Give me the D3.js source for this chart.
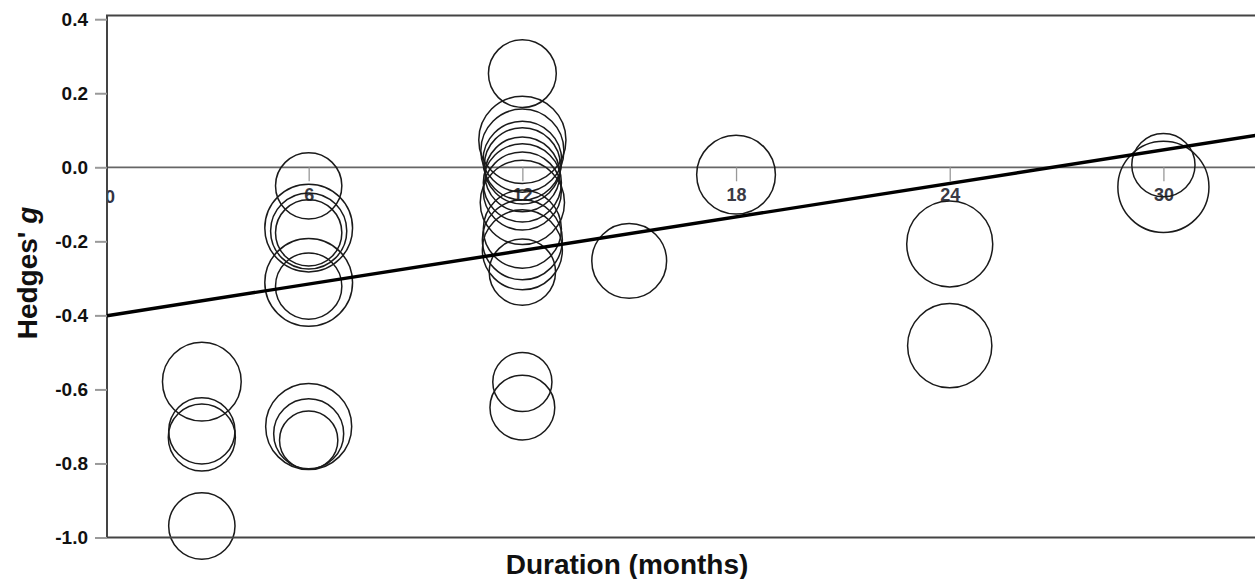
<!DOCTYPE html>
<html>
<head>
<meta charset="utf-8">
<script src="https://cdn.jsdelivr.net/npm/d3@7"></script>
<style>
  html, body { margin: 0; padding: 0; background: #fff; }
  svg { display: block; font-family: "Liberation Sans", Arial, sans-serif; }
</style>
</head>
<body>
<div id="chart"></div>
<script>
// study duration (months), effect size and study weight
const months = [
  3, 3, 3, 3,
  6, 6, 6, 6, 6, 6, 6, 6, 6,
  12, 12, 12, 12, 12, 12, 12, 12, 12, 12, 12, 12, 12, 12, 12,
  15, 18, 24, 24, 30, 30
];
const hedgesG = [
  -0.579, -0.712, -0.730, -0.969,
  -0.050, -0.164, -0.172, -0.177, -0.311, -0.321, -0.700, -0.720, -0.737,
  0.253, 0.074, 0.045, 0.018, 0.004, -0.019, -0.042, -0.064, -0.095, -0.167, -0.196, -0.223, -0.283, -0.580, -0.649,
  -0.253, -0.020, -0.207, -0.482, -0.053, 0.006
];
const weights = [
  62, 44, 45, 44,
  44, 77, 58, 44, 77, 44, 74, 49, 34,
  46, 76, 69, 62, 58, 56, 61, 61, 71, 61, 64, 64, 44, 35, 42,
  56, 62, 74, 71, 83, 40
];
const yTicks = [0.4, 0.2, 0.0, -0.2, -0.4, -0.6, -0.8, -1.0];
const xTicks = [6, 12, 18, 24, 30];
const fitIntercept = -0.406;
const fitSlope = 0.0151;

const width = 1255, height = 579;
const plotLeft = 107, plotTop = 15.5, plotBottom = 537.5;

const data = months.map((m, i) => ({ month: m, g: hedgesG[i], w: weights[i] }));

const svg = d3.select("#chart").append("svg")
  .attr("width", width)
  .attr("height", height);

const x = d3.scaleLinear().domain([0, 32.6]).range([95, 1256]);
const y = d3.scaleLinear().domain([-1.0, 0.41]).range([plotBottom, plotTop]);
const r = d3.scaleSqrt().domain([0, 100]).range([0, 50]);

svg.append("clipPath").attr("id", "plotclip")
  .append("rect")
  .attr("x", plotLeft).attr("y", 0)
  .attr("width", width - plotLeft).attr("height", height);

// zero line + x axis
svg.append("line")
  .attr("x1", plotLeft).attr("x2", width)
  .attr("y1", y(0)).attr("y2", y(0))
  .attr("stroke", "#666").attr("stroke-width", 1.8);

const xAxis = svg.append("g")
  .attr("transform", `translate(0, ${y(0)})`)
  .call(d3.axisBottom(x).tickValues(xTicks).tickSize(14).tickPadding(7).tickFormat(d3.format("d")));
xAxis.select(".domain").remove();
xAxis.selectAll(".tick line").attr("stroke", "#999").attr("stroke-width", 1.3);
xAxis.selectAll(".tick text")
  .attr("font-size", 18).attr("font-weight", "bold").attr("fill", "#3a3a44")
  .attr("font-family", "'Liberation Sans', Arial, sans-serif");

svg.append("text")
  .attr("clip-path", "url(#plotclip)")
  .attr("x", plotLeft + 3).attr("y", y(0) + 36)
  .attr("text-anchor", "middle")
  .attr("font-size", 18).attr("font-weight", "bold").attr("fill", "#334")
  .text("0");

// circles
svg.append("g")
  .selectAll("circle")
  .data(data)
  .join("circle")
  .attr("cx", d => x(d.month))
  .attr("cy", d => y(d.g))
  .attr("r", d => r(d.w))
  .attr("fill", "none")
  .attr("stroke", "#1a1a1a")
  .attr("stroke-width", 1.5);

// frame
svg.append("path")
  .attr("d", `M${width + 2},${plotTop} H${plotLeft} V${plotBottom} H${width + 2}`)
  .attr("fill", "none")
  .attr("stroke", "#444")
  .attr("stroke-width", 2);

// y axis
const yAxis = svg.append("g")
  .attr("transform", `translate(${plotLeft}, 0)`)
  .call(d3.axisLeft(y).tickValues(yTicks).tickSize(12).tickPadding(7).tickFormat(d => d.toFixed(1)));
yAxis.select(".domain").remove();
yAxis.selectAll(".tick line").attr("stroke", "#999").attr("stroke-width", 2);
yAxis.selectAll(".tick text")
  .attr("font-size", 19).attr("font-weight", "bold").attr("fill", "#111")
  .attr("font-family", "'Liberation Sans', Arial, sans-serif");

// meta-regression line
const m0 = x.invert(plotLeft), m1 = x.domain()[1];
svg.append("line")
  .attr("x1", x(m0)).attr("y1", y(fitIntercept + fitSlope * m0))
  .attr("x2", x(m1)).attr("y2", y(fitIntercept + fitSlope * m1))
  .attr("stroke", "#000")
  .attr("stroke-width", 3.4);

// axis titles
svg.append("text")
  .attr("x", 627).attr("y", 574)
  .attr("text-anchor", "middle")
  .attr("font-size", 28).attr("font-weight", "bold").attr("fill", "#111")
  .text("Duration (months)");

const yt = svg.append("text")
  .attr("transform", "translate(37, 273) rotate(-90)")
  .attr("text-anchor", "middle")
  .attr("font-size", 28).attr("font-weight", "bold").attr("fill", "#111");
yt.append("tspan").text("Hedges' ");
yt.append("tspan").attr("font-style", "italic").text("g");
</script>
</body>
</html>
